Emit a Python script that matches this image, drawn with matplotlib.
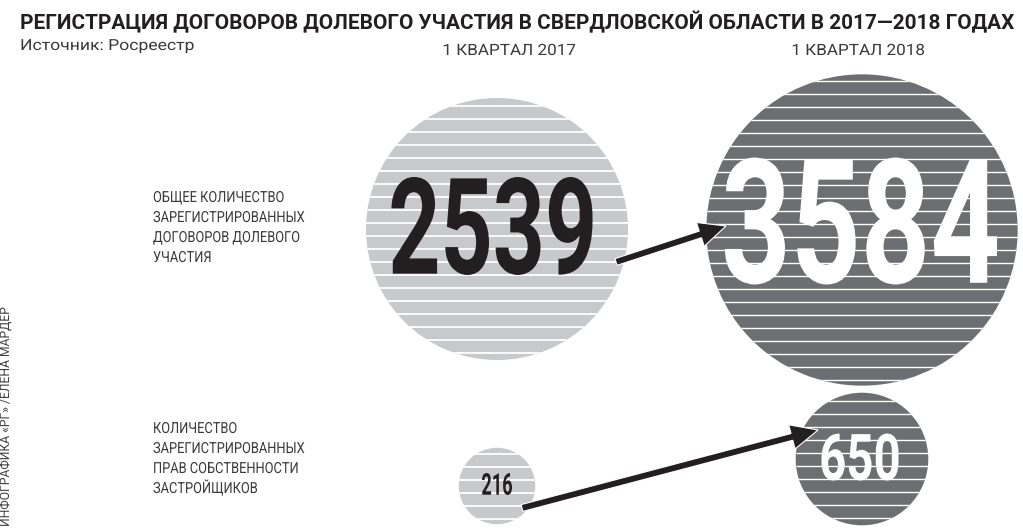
import matplotlib
matplotlib.use("Agg")
import matplotlib.pyplot as plt
import numpy as np
from matplotlib.patches import Circle, FancyArrow
from matplotlib.patheffects import AbstractPathEffect
from matplotlib.transforms import Affine2D

# ---------------- data ----------------
title = "РЕГИСТРАЦИЯ ДОГОВОРОВ ДОЛЕВОГО УЧАСТИЯ В СВЕРДЛОВСКОЙ ОБЛАСТИ В 2017—2018 ГОДАХ"
source = "Источник: Росреестр"
credit = "ИНФОГРАФИКА «РГ» /ЕЛЕНА МАРДЕР"
periods = ["1 КВАРТАЛ 2017", "1 КВАРТАЛ 2018"]
categories = [
    ["ОБЩЕЕ КОЛИЧЕСТВО", "ЗАРЕГИСТРИРОВАННЫХ", "ДОГОВОРОВ ДОЛЕВОГО", "УЧАСТИЯ"],
    ["КОЛИЧЕСТВО", "ЗАРЕГИСТРИРОВАННЫХ", "ПРАВ СОБСТВЕННОСТИ", "ЗАСТРОЙЩИКОВ"],
]
values_2017 = [2539, 216]
values_2018 = [3584, 650]

# ---------------- layout (pixels) ----------------
W, H = 1023, 531
col_x = [497, 862]
row_y = [[229, 230], [486, 459]]          # circle centres per row / column
px_per_sqrt = 2.6                          # radius = k * sqrt(value)
stripe_gap = 13
fill_colors = ["#c8c9ca", "#6d6e71"]
num_colors = ["#231f20", "#ffffff"]
num_off = [[(-5, -3), (-1, -9)], [(0, -2), (-2, -2)]]
num_size = [[(201, 98), (272, 127)], [(30, 22), (77, 47)]]
arrows = [((616, 262), (726, 226)), ((522, 508), (818, 430))]
cat_baselines = [[202, 222, 242, 262], [433, 453, 473, 493]]
DARK = "#231f20"
GREY = "#3a3a3a"


class Squeeze(AbstractPathEffect):
    """Draw glyphs rescaled so that their ink fits a w x h box centred at (x, y)."""

    def __init__(self, ax, x, y, w, h):
        super().__init__()
        self.ax, self.x, self.y, self.w, self.h = ax, x, y, w, h

    def draw_path(self, renderer, gc, tpath, affine, rgbFace=None):
        ext = tpath.get_extents(affine)
        px, py = self.ax.transData.transform((self.x, self.y))
        post = (Affine2D()
                .translate(-(ext.x0 + ext.width / 2), -(ext.y0 + ext.height / 2))
                .scale(self.w / ext.width, self.h / ext.height)
                .translate(px, py))
        renderer.draw_path(gc, tpath, affine + post, rgbFace)


class Condense(AbstractPathEffect):
    """Scale glyphs horizontally (or vertically) about the text anchor."""

    def __init__(self, ax, x, y, s, axis="x"):
        super().__init__()
        self.ax, self.x, self.y, self.s, self.axis = ax, x, y, s, axis

    def draw_path(self, renderer, gc, tpath, affine, rgbFace=None):
        px, py = self.ax.transData.transform((self.x, self.y))
        if self.axis == "x":
            post = Affine2D().translate(-px, 0).scale(self.s, 1).translate(px, 0)
        else:
            post = Affine2D().translate(0, -py).scale(1, self.s).translate(0, py)
        renderer.draw_path(gc, tpath, affine + post, rgbFace)


def ctext(x, y, s, sx, axis="x", **kw):
    return ax.text(x, y, s, path_effects=[Condense(ax, x, y, sx, axis)], **kw)


fig = plt.figure(figsize=(W / 100, H / 100), dpi=100)
fig.patch.set_facecolor("white")
ax = fig.add_axes([0, 0, 1, 1])
ax.set_xlim(0, W)
ax.set_ylim(H, 0)
ax.axis("off")

# titles
ax.text(20, 29, title, fontsize=14.95, fontweight="bold", family="Roboto",
        color=DARK, ha="left", va="baseline")
ctext(20, 50, source, 1.15, fontsize=11.0, fontweight="normal", family="Roboto",
      color=GREY, ha="left", va="baseline")
for j, p in enumerate(periods):
    ctext(col_x[j] + [12, -4][j], 55, p, 1.1, fontsize=11.2, fontweight="normal",
          family="Roboto", color=GREY, ha="center", va="baseline")

# category labels
for i, lines in enumerate(categories):
    for k, line in enumerate(lines):
        ctext(153, cat_baselines[i][k], line, 0.84, fontsize=11.0, fontweight="normal",
              family="Roboto", color=GREY, ha="left", va="baseline")

# credit (vertical)
ctext(12, 527, credit, 0.93, axis="y", fontsize=9.4, fontweight="normal",
      family="Roboto", color="#444444", rotation=90, ha="right", va="bottom")

# circles
vals = [values_2017, values_2018]
for i in range(2):
    for j in range(2):
        v = vals[j][i]
        r = px_per_sqrt * np.sqrt(v)
        cx, cy = col_x[j], row_y[i][j]
        circ = Circle((cx, cy), r, facecolor=fill_colors[j], edgecolor="none", zorder=1)
        ax.add_patch(circ)
        n = int(r // stripe_gap) + 1
        offs = stripe_gap / 2 + stripe_gap * np.arange(n)
        ys = np.concatenate([cy - offs, cy + offs])
        lc = ax.hlines(ys, cx - r, cx + r, colors="white",
                       linewidth=1.3 if j == 0 else 1.0, zorder=2)
        lc.set_clip_path(circ)
        dx, dy = num_off[i][j]
        w, h = num_size[i][j]
        tx, ty = cx + dx, cy + dy
        fs_pt = w / (0.56 * len(str(v))) * 0.72
        ax.text(tx, ty, str(v), fontsize=fs_pt, fontweight="bold",
                family="Roboto", color=num_colors[j], ha="center", va="center",
                zorder=3, path_effects=[Squeeze(ax, tx, ty, w, h)])

# arrows
for (x0, y0), (x1, y1) in arrows:
    ax.add_patch(FancyArrow(x0, y0, x1 - x0, y1 - y0, width=7, head_width=25,
                            head_length=27, length_includes_head=True,
                            facecolor=DARK, edgecolor="white", linewidth=0.8,
                            zorder=4))

fig.savefig("out.png", dpi=100, facecolor="white")
